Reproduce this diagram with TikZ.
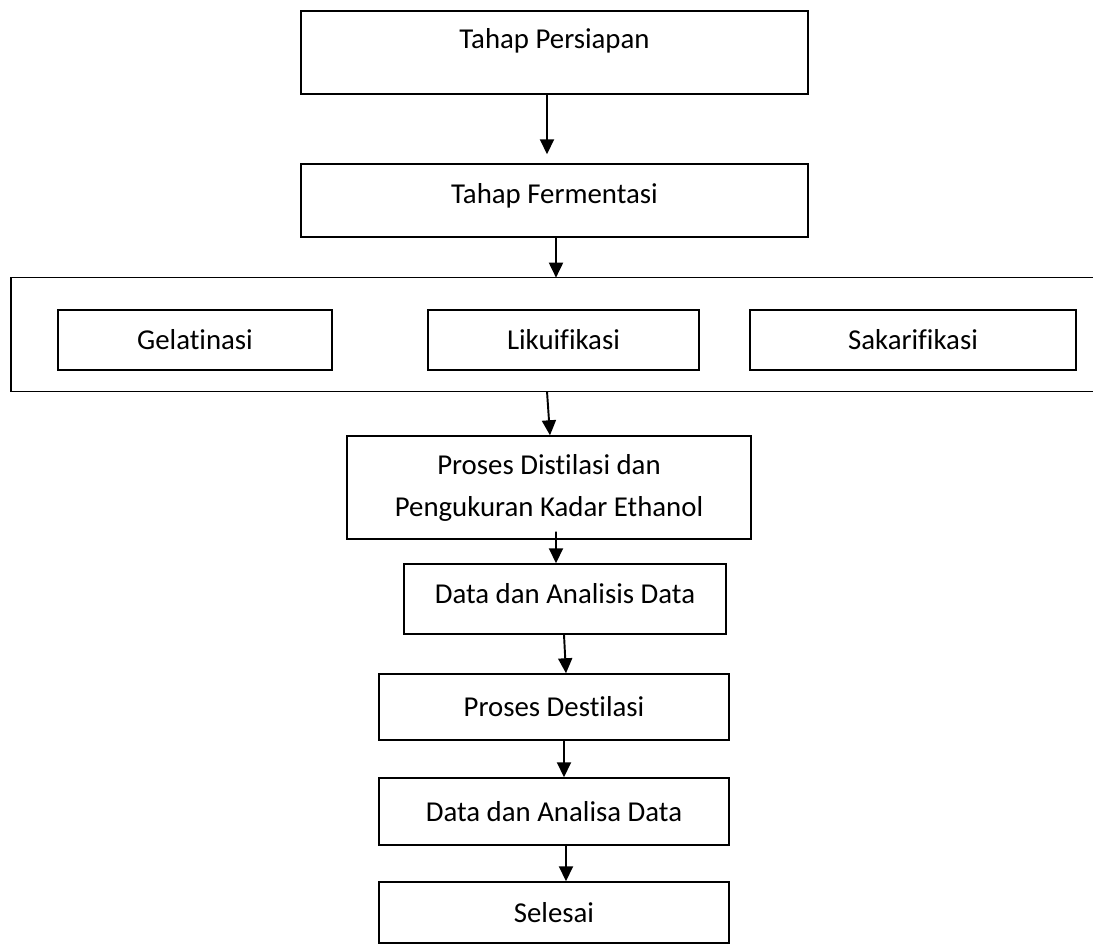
\documentclass[tikz,border=0pt]{standalone}
\usepackage{fontspec}
\setmainfont{Carlito}[Ligatures=NoCommon]
\usetikzlibrary{arrows.meta}
\tikzset{
  stage/.style={draw,black,line width=0.85pt,inner sep=0pt,align=center,
    font=\fontsize{16.4}{23.9}\selectfont},
  flow/.style={line width=1.1pt,black},
  >={Triangle[width=0.28cm,length=0.3cm]},
}
\begin{document}
\begin{tikzpicture}[x=0.02cm,y=-0.02cm]
    \useasboundingbox (0,0) rectangle (1093,944);
    % Tahap awal
    \node[stage,minimum width=10.14cm,minimum height=1.66cm,text depth=0.56cm] (persiapan) at (554.5,52.5) {Tahap Persiapan};
    \node[stage,minimum width=10.14cm,minimum height=1.46cm,text depth=0.28cm] (fermentasi) at (554.5,200.5) {Tahap Fermentasi};
    % Kotak proses (sisi kanan terbuka)
    \node[minimum width=21.68cm,minimum height=2.26cm,inner sep=0pt] (proses) at (553,334.5) {};
    \draw[line width=0.85pt,black] (proses.north east) to (proses.north west) to (proses.south west) to (proses.south east);
    \node[stage,minimum width=5.48cm,minimum height=1.2cm] (gelatinasi) at (195,340) {Gelatinasi};
    \node[stage,minimum width=5.42cm,minimum height=1.2cm] (likuifikasi) at (563.5,340) {Likuifikasi};
    \node[stage,minimum width=6.52cm,minimum height=1.2cm] (sakarifikasi) at (913,340) {Sakarifikasi};
    % Distilasi dan data
    \node[stage,minimum width=8.08cm,minimum height=2.06cm] (distilasi) at (549,487.5) {Proses Distilasi dan\\Pengukuran Kadar Ethanol};
    \node[stage,minimum width=6.44cm,minimum height=1.4cm,text depth=0.22cm] (analisis) at (565,599) {Data dan Analisis Data};
    \node[stage,minimum width=7cm,minimum height=1.32cm] (destilasi) at (554,707) {Proses Destilasi};
    \node[stage,minimum width=7cm,minimum height=1.34cm] (analisa) at (554,811.5) {Data dan Analisa Data};
    \node[stage,minimum width=7cm,minimum height=1.22cm] (selesai) at (554,912.5) {Selesai};
    % Panah
    \draw[->,flow,shorten >=0.18cm] ([xshift=-0.15cm]persiapan.south) to ([xshift=-0.15cm]fermentasi.north);
    \draw[->,flow] ([xshift=0.03cm]fermentasi.south) to ([xshift=0.06cm]proses.north);
    \draw[->,flow] ([xshift=-0.12cm]proses.south) to ([xshift=0.02cm]distilasi.north);
    \draw[->,flow,shorten <=-0.16cm] ([xshift=0.14cm]distilasi.south) to ([xshift=-0.18cm]analisis.north);
    \draw[->,flow] ([xshift=-0.02cm]analisis.south) to ([xshift=0.24cm]destilasi.north);
    \draw[->,flow] ([xshift=0.2cm]destilasi.south) to ([xshift=0.2cm]analisa.north);
    \draw[->,flow,shorten <=-0.04cm] ([xshift=0.24cm]analisa.south) to ([xshift=0.24cm]selesai.north);
\end{tikzpicture}
\end{document}
